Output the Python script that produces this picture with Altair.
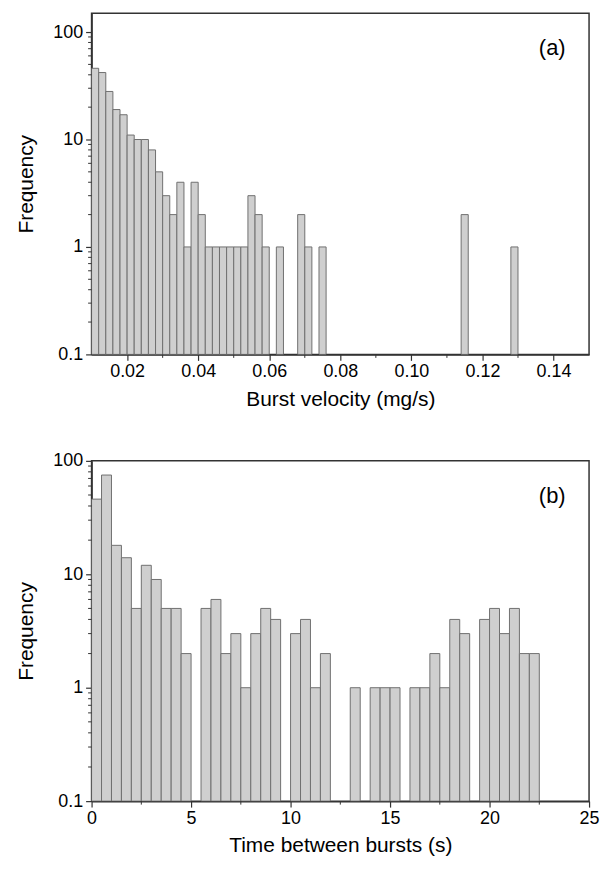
import altair as alt
import pandas as pd

# ---------------- data ----------------
# (a) burst velocity histogram, bin width 0.002 mg/s (bin start, count)
vel_start = [0.010, 0.012, 0.014, 0.016, 0.018, 0.020, 0.022, 0.024, 0.026, 0.028,
             0.030, 0.032, 0.034, 0.036, 0.038, 0.040, 0.042, 0.044, 0.046, 0.048,
             0.050, 0.052, 0.054, 0.056, 0.058, 0.062, 0.068, 0.070, 0.074, 0.114,
             0.128]
vel_count = [46, 42, 28, 19, 17, 11, 10, 10, 8, 5,
             3, 2, 4, 1, 4, 2, 1, 1, 1, 1,
             1, 1, 3, 2, 1, 1, 2, 1, 1, 2,
             1]
VEL_BIN = 0.002

# (b) time between bursts histogram, bin width 0.5 s (bin start, count)
time_start = [0.0, 0.5, 1.0, 1.5, 2.0, 2.5, 3.0, 3.5, 4.0, 4.5,
              5.5, 6.0, 6.5, 7.0, 7.5, 8.0, 8.5, 9.0,
              10.0, 10.5, 11.0, 11.5,
              13.0, 14.0, 14.5, 15.0,
              16.0, 16.5, 17.0, 17.5, 18.0, 18.5,
              19.5, 20.0, 20.5, 21.0, 21.5, 22.0]
time_count = [46, 75, 18, 14, 5, 12, 9, 5, 5, 2,
              5, 6, 2, 3, 1, 3, 5, 4,
              3, 4, 1, 2,
              1, 1, 1, 1,
              1, 1, 2, 1, 4, 3,
              4, 5, 3, 5, 2, 2]
TIME_BIN = 0.5

# axis tick values
y_major = [0.1, 1, 10, 100]
y_minor = [0.2, 0.3, 0.4, 0.5, 0.6, 0.7, 0.8, 0.9,
           2, 3, 4, 5, 6, 7, 8, 9,
           20, 30, 40, 50, 60, 70, 80, 90]
xa_major = [0.02, 0.04, 0.06, 0.08, 0.10, 0.12, 0.14]
xa_minor = [0.03, 0.05, 0.07, 0.09, 0.11, 0.13]
xb_major = [0, 5, 10, 15, 20, 25]
xb_minor = [2.5, 7.5, 12.5, 17.5, 22.5]

# ---------------- style ----------------
FONT = "Liberation Sans"
W = 500
HA = 343
HB = 342
DARK = "#333333"
BAR_FILL = "#cfcfcf"
BAR_STROKE = "#707070"


def make_axis(title, values, fmt):
    return alt.Axis(title=title, values=values, format=fmt, grid=False,
                    ticks=True, tickSize=6, tickColor=DARK, tickWidth=1.2,
                    domain=True, domainColor=DARK, domainWidth=1.5,
                    labelFont=FONT, labelFontSize=18, labelColor="black",
                    labelPadding=2, titleFont=FONT, titleFontSize=21,
                    titleFontWeight="normal", titleColor="black",
                    labelFlush=False, labelOverlap=False)


def panel(starts, counts, binw, xdomain, ydomain, xtitle, xmaj, xmin, xfmt,
          tag, height):
    df = pd.DataFrame({"start": starts, "count": counts})
    df["end"] = df["start"] + binw
    df["base"] = ydomain[0]

    xscale = alt.Scale(domain=xdomain, nice=False, zero=False)
    yscale = alt.Scale(type="log", domain=ydomain, nice=False)
    xaxis = make_axis(xtitle, xmaj, xfmt)
    yaxis = make_axis("Frequency", y_major, "~g")
    yaxis.titlePadding = 16
    yaxis.labelPadding = 3
    xaxis.titlePadding = 8

    bars = alt.Chart(df).mark_bar(fill=BAR_FILL, stroke=BAR_STROKE,
                                  strokeWidth=1, clip=True).encode(
        x=alt.X("start:Q", scale=xscale, axis=xaxis),
        x2="end:Q",
        y=alt.Y("count:Q", scale=yscale, axis=yaxis),
        y2="base:Q",
    )

    ym = [v for v in y_minor if ydomain[0] < v < ydomain[1]]
    yminor = alt.Chart(pd.DataFrame({"v": ym})).mark_rule(
        color=DARK, strokeWidth=1).encode(
        y=alt.Y("v:Q", scale=yscale, axis=yaxis),
        x=alt.value(0), x2=alt.value(-3.5),
    )
    xminor = alt.Chart(pd.DataFrame({"v": xmin})).mark_rule(
        color=DARK, strokeWidth=1).encode(
        x=alt.X("v:Q", scale=xscale, axis=xaxis),
        y=alt.value(height), y2=alt.value(height + 3.5),
    )
    label = alt.Chart(pd.DataFrame({"t": [tag]})).mark_text(
        font=FONT, fontSize=22, color="black", align="center",
        baseline="middle").encode(
        text="t:N", x=alt.value(463), y=alt.value(35),
    )
    return alt.layer(bars, yminor, xminor, label).properties(
        width=W, height=height)


pa = panel(vel_start, vel_count, VEL_BIN, [0.01, 0.15], [0.1, 150],
           "Burst  velocity (mg/s)", xa_major, xa_minor, ".2f", "(a)", HA)
pb = panel(time_start, time_count, TIME_BIN, [0, 25], [0.1, 100],
           "Time between bursts (s)", xb_major, xb_minor, "d", "(b)", HB)

chart = alt.vconcat(pa, pb, spacing=41).properties(
    padding={"left": 7, "top": 2, "right": 0, "bottom": 0},
    background="white",
).configure_view(stroke=DARK, strokeWidth=1.5)

chart.save("out.html", embed_options={"renderer": "svg", "actions": False})
